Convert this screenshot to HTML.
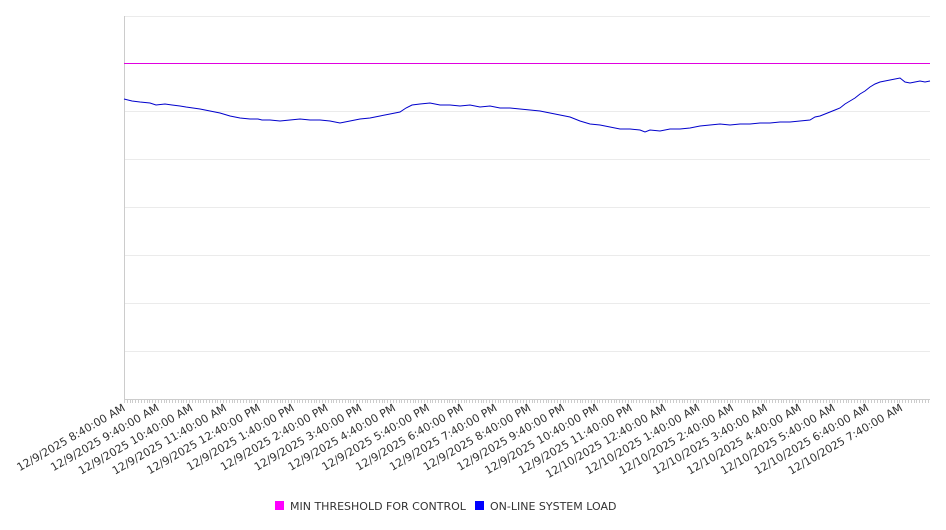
<!DOCTYPE html>
<html><head><meta charset="utf-8"><style>
body{margin:0;background:#fff;width:946px;height:526px;overflow:hidden;font-family:"DejaVu Sans","Liberation Sans",sans-serif}
</style></head><body>
<svg width="946" height="526" xmlns="http://www.w3.org/2000/svg" font-family="DejaVu Sans, Liberation Sans, sans-serif">
<g stroke="#ebebeb" stroke-width="1">
<line x1="124" x2="930" y1="16.5" y2="16.5"/>
<line x1="124" x2="930" y1="111.5" y2="111.5"/>
<line x1="124" x2="930" y1="159.5" y2="159.5"/>
<line x1="124" x2="930" y1="207.5" y2="207.5"/>
<line x1="124" x2="930" y1="255.5" y2="255.5"/>
<line x1="124" x2="930" y1="303.5" y2="303.5"/>
<line x1="124" x2="930" y1="351.5" y2="351.5"/>
</g>
<line x1="124.5" x2="124.5" y1="16" y2="400" stroke="#ccc"/>
<line x1="124" x2="930" y1="399.5" y2="399.5" stroke="#ccc"/>
<g id="ticks" stroke="#ccc"></g>
<rect x="124" y="63" width="806" height="1" fill="#e000e0"/>
<polyline fill="none" stroke="#0000cc" stroke-width="1" points="124,99 132,101 140,102 150,103 156,105 165,104 172,105 180,106 186,107 193,108 200,109 210,111 220,113 230,116 240,118 250,119 258,119 262,120 270,120 280,121 290,120 300,119 310,120 320,120 330,121 340,123 350,121 360,119 370,118 380,116 390,114 400,112 406,108 412,105 420,104 430,103 440,105 450,105 460,106 470,105 480,107 490,106 500,108 510,108 520,109 530,110 540,111 550,113 560,115 570,117 580,121 590,124 600,125 610,127 620,129 630,129 640,130 645,132 650,130 660,131 670,129 680,129 690,128 700,126 710,125 720,124 730,125 740,124 750,124 760,123 770,123 780,122 790,122 800,121 810,120 815,117 820,116 825,114 830,112 835,110 840,108 845,104 850,101 855,98 860,94 865,91 870,87 875,84 880,82 890,80 900,78 905,82 910,83 915,82 920,81 925,82 930,81"/>
<g font-size="11" fill="#333" text-anchor="end" id="labels"></g>
<rect x="275" y="501" width="9" height="9" fill="#ff00ff"/>
<text x="290" y="510" font-size="11" fill="#333">MIN THRESHOLD FOR CONTROL</text>
<rect x="475" y="501" width="9" height="9" fill="#0000ff"/>
<text x="490" y="510" font-size="11" fill="#333">ON-LINE SYSTEM LOAD</text>
</svg>
<script>
var ns="http://www.w3.org/2000/svg";
var t=document.getElementById("ticks");
for(var x=124;x<=930;x+=2.83){var l=document.createElementNS(ns,"line");l.setAttribute("x1",Math.round(x)+.5);l.setAttribute("x2",Math.round(x)+.5);l.setAttribute("y1",400);l.setAttribute("y2",403);t.appendChild(l);}
var g=document.getElementById("labels");
var hrs=["8:40:00 AM","9:40:00 AM","10:40:00 AM","11:40:00 AM","12:40:00 PM","1:40:00 PM","2:40:00 PM","3:40:00 PM","4:40:00 PM","5:40:00 PM","6:40:00 PM","7:40:00 PM","8:40:00 PM","9:40:00 PM","10:40:00 PM","11:40:00 PM","12:40:00 AM","1:40:00 AM","2:40:00 AM","3:40:00 AM","4:40:00 AM","5:40:00 AM","6:40:00 AM","7:40:00 AM"];
for(var i=0;i<24;i++){var x=126+i*33.8,y=410;var tx=document.createElementNS(ns,"text");tx.setAttribute("x",x);tx.setAttribute("y",y);tx.setAttribute("transform","rotate(-30 "+x+" "+y+")");tx.textContent=(i<16?"12/9/2025 ":"12/10/2025 ")+hrs[i];g.appendChild(tx);}
</script>
</body></html>
